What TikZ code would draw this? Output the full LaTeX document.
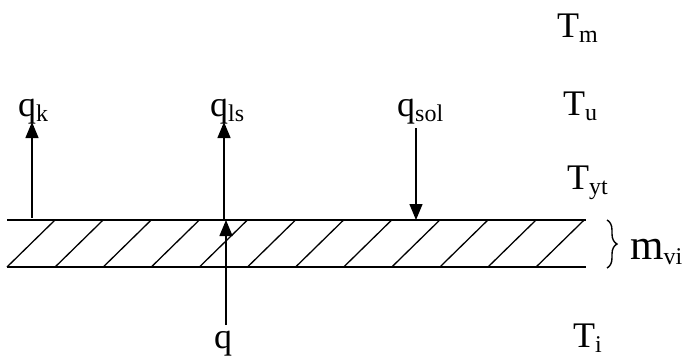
\documentclass[tikz,border=0pt]{standalone}
\usepackage{fontspec}
\setmainfont{Liberation Serif}
\usetikzlibrary{arrows.meta,decorations.pathreplacing}
\newcommand{\lsub}[1]{\raisebox{-5pt}{\fontsize{24}{24}\selectfont #1}}
\begin{document}
\begin{tikzpicture}[x=1pt,y=-1pt,
  lbl/.style={anchor=base west,inner sep=0pt,font=\fontsize{36}{40}\selectfont},
  flux/.style={line width=1.3pt,-{Triangle[length=16pt,width=13pt]}},
  slabline/.style={line width=1.3pt}]
\useasboundingbox (0,0) rectangle (697,357);
% slab
\coordinate (sl) at (7,220); \coordinate (sr) at (586,220);
\coordinate (bl) at (7,267); \coordinate (br) at (586,267);
\draw[slabline] (sl) -- (sr);
\draw[slabline] (bl) -- (br);
\foreach \i in {0,...,11} \draw[slabline] (7+48.1*\i,267) -- (55+48.1*\i,220);
% labels
\node[lbl] (Tm) at (557,37) {T\lsub{m}};
\node[lbl] (Tu) at (563,115) {T\lsub{u}};
\node[lbl] (Tyt) at (567,189) {T\lsub{yt}};
\node[lbl] (Ti) at (573,347) {T\lsub{i}};
\node[lbl] (qk) at (18,116) {q\lsub{k}};
\node[lbl] (qls) at (210,116) {q\lsub{ls}};
\node[lbl] (qsol) at (397,116) {q\lsub{sol}};
\node[lbl] (q) at (214,348) {q};
\node[lbl,font=\fontsize{43}{48}\selectfont] (mvi) at (630,259) {m\lsub{vi}};
% arrows
\coordinate (qkb) at (32,218); \coordinate (qkt) at (32,122);
\draw[flux] (qkb) -- (qkt);
\coordinate (qlsb) at (224,220); \coordinate (qlst) at (224,122);
\draw[flux] (qlsb) -- (qlst);
\coordinate (qb) at (226,325); \coordinate (qt) at (226,220);
\draw[flux] (qb) -- (qt);
\coordinate (qsolt) at (416,128); \coordinate (qsolb) at (416,220);
\draw[flux] (qsolt) -- (qsolb);
% brace
\coordinate (brt) at (607,220); \coordinate (brb) at (607,268);
\draw[line width=1.4pt,decorate,decoration={brace,amplitude=10pt}] (brt) -- (brb);
\end{tikzpicture}
\end{document}
